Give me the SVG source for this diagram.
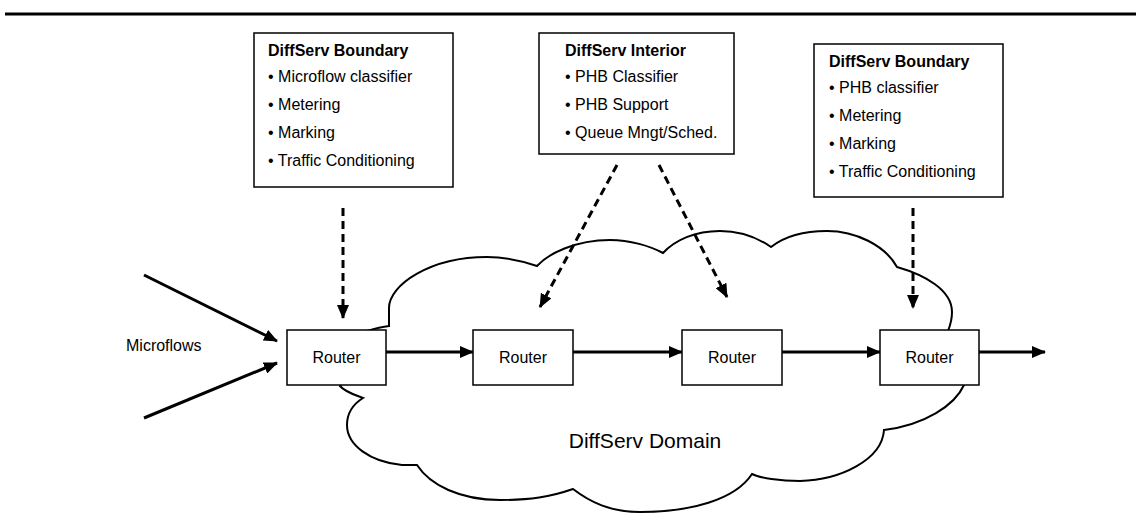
<svg xmlns="http://www.w3.org/2000/svg" width="1136" height="513" viewBox="0 0 1136 513">
<defs>
<marker id="ah" markerUnits="userSpaceOnUse" markerWidth="14" markerHeight="12" refX="13" refY="6" orient="auto">
<path d="M0,0 L14,6 L0,12 Z" fill="#000"/>
</marker>
<style>
.box{fill:#fff;stroke:#000;stroke-width:1.5}
.t{font-family:"Liberation Sans",Arial,sans-serif;font-size:16px;fill:#000}
.b{font-weight:bold}
.r{font-family:"Liberation Sans",Arial,sans-serif;font-size:16px;fill:#000;text-anchor:middle}
.solid{stroke:#000;stroke-width:3;fill:none;marker-end:url(#ah)}
.dash{stroke:#000;stroke-width:3;fill:none;stroke-dasharray:8 5;marker-end:url(#ah)}
</style>
</defs>
<rect width="1136" height="513" fill="#fff"/>
<line x1="5" y1="14" x2="1136" y2="14" stroke="#000" stroke-width="3"/>
<g id="cloud">
<path d="M367,331 Q380,327 389,326 L389,308 C389,285 430,257 487,257 C505,257 525,262 537,266 C548,254 575,240 610,240 C630,240 650,246 663,253 C675,240 695,231 720,231 C740,231 758,238 771,247 C785,236 805,231 827,231 C855,231 885,245 897,267 C925,275 952,290 952,312 C952,320 950,326 948,331 L964,385 C955,405 925,425 884,430 C882,460 840,480 800,481 C780,481 760,478 752,474 C735,500 690,512 640,512 C610,512 590,502 573,489 C550,497 530,500 500,500 C460,500 430,485 417,465 L402,465 C370,462 347,445 347,425 C347,412 355,403 363,398 C355,395 345,392 340,386 Z" fill="#fff" stroke="#000" stroke-width="2"/>
<text class="t" x="645" y="448" text-anchor="middle" style="font-size:21px">DiffServ Domain</text>
</g>
<g id="connectors">
<line class="solid" x1="144" y1="275" x2="277" y2="341"/>
<line class="solid" x1="144" y1="418" x2="277" y2="363"/>
<line class="solid" x1="386" y1="352" x2="473" y2="352"/>
<line class="solid" x1="573" y1="352" x2="682" y2="352"/>
<line class="solid" x1="782" y1="352" x2="880" y2="352"/>
<line class="solid" x1="979" y1="352" x2="1045" y2="352"/>
<line class="dash" x1="343" y1="208" x2="343" y2="318"/>
<line class="dash" x1="617" y1="165" x2="540" y2="307"/>
<line class="dash" x1="659" y1="165" x2="727" y2="297"/>
<line class="dash" x1="913" y1="208" x2="913" y2="308"/>
</g>
<g id="box1">
<rect class="box" x="254" y="33" width="199" height="154"/>
<text class="t b" x="268" y="56">DiffServ Boundary</text>
<text class="t" x="268" y="82">• Microflow classifier</text>
<text class="t" x="268" y="110">• Metering</text>
<text class="t" x="268" y="138">• Marking</text>
<text class="t" x="268" y="166">• Traffic Conditioning</text>
</g>
<g id="box2">
<rect class="box" x="539" y="33" width="195" height="121"/>
<text class="t b" x="565" y="56">DiffServ Interior</text>
<text class="t" x="565" y="82">• PHB Classifier</text>
<text class="t" x="565" y="110">• PHB Support</text>
<text class="t" x="565" y="138">• Queue Mngt/Sched.</text>
</g>
<g id="box3">
<rect class="box" x="814" y="44" width="189" height="153"/>
<text class="t b" x="829" y="67">DiffServ Boundary</text>
<text class="t" x="829" y="93">• PHB classifier</text>
<text class="t" x="829" y="121">• Metering</text>
<text class="t" x="829" y="149">• Marking</text>
<text class="t" x="829" y="177">• Traffic Conditioning</text>
</g>
<g id="microflows">
<text class="t" x="126" y="351">Microflows</text>
</g>
<g id="router1"><rect class="box" x="287" y="330" width="99" height="55"/><text class="r" x="336.5" y="363">Router</text></g>
<g id="router2"><rect class="box" x="473" y="330" width="100" height="55"/><text class="r" x="523" y="363">Router</text></g>
<g id="router3"><rect class="box" x="682" y="330" width="100" height="55"/><text class="r" x="732" y="363">Router</text></g>
<g id="router4"><rect class="box" x="880" y="330" width="99" height="55"/><text class="r" x="929.5" y="363">Router</text></g>
</svg>
